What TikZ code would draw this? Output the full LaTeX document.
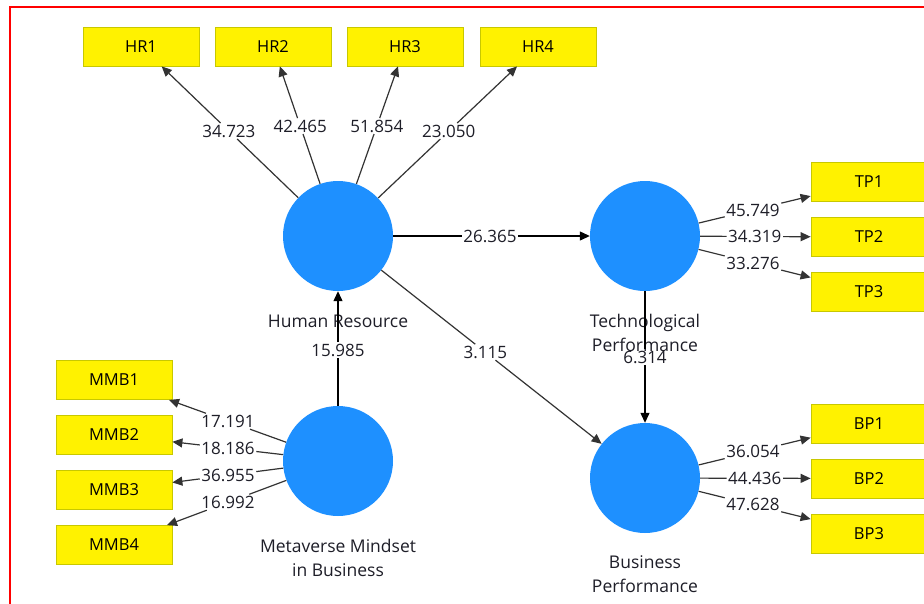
\documentclass[tikz,border=0pt]{standalone}
\usepackage{fontspec}
\setmainfont{Open Sans}
\usetikzlibrary{arrows.meta,calc}
\definecolor{lvblue}{RGB}{30,144,255}
\definecolor{boxborder}{RGB}{200,200,0}
\definecolor{txt}{RGB}{30,30,40}
\definecolor{frame}{RGB}{255,0,0}
\begin{document}
\begin{tikzpicture}[x=1pt,y=-1pt,
  lv/.style={circle,fill=lvblue,minimum size=110pt,inner sep=0pt},
  ind/.style={rectangle,fill=yellow,draw=boxborder,line width=0.8pt,minimum width=116pt,minimum height=39pt,inner sep=0pt,font=\fontsize{16.5}{18}\selectfont,text=black},
  lbl/.style={inner sep=1.5pt,font=\fontsize{17}{18}\selectfont,text=txt},
  lvname/.style={align=center,font=\fontsize{17.5}{24}\selectfont,text=txt},
  conn/.style={draw=black!80,line width=1.2pt,-{Triangle[length=10pt,width=9pt]}},
]
\useasboundingbox (0,0) rectangle (924,603);
\clip (0,0) rectangle (924,603);
\fill[white] (0,0) rectangle (924,603);
\draw[frame,line width=2pt] (10,604) -- (10,7) -- (925,7);

% latent variables
\node[lv] (hr) at (338,236) {};
\node[lv] (tp) at (645,236) {};
\node[lv] (bp) at (645,478) {};
\node[lv] (mmb) at (338,461) {};

% names
\node[lvname] (hrn) at (338,321) {Human Resource};
\node[lvname] (tpn) at (645,333) {Technological\\Performance};
\node[lvname] (bpn) at (645,574) {Business\\Performance};
\node[lvname] (mmbn) at (338,558) {Metaverse Mindset\\in Business};

% indicators
\node[ind] (hr1) at (141,46.5) {HR1};
\node[ind] (hr2) at (273,46.5) {HR2};
\node[ind] (hr3) at (405,46.5) {HR3};
\node[ind] (hr4) at (538,46.5) {HR4};
\node[ind] (tp1) at (869,182) {TP1};
\node[ind] (tp2) at (869,237) {TP2};
\node[ind] (tp3) at (869,292) {TP3};
\node[ind] (bp1) at (869,423.5) {BP1};
\node[ind] (bp2) at (869,478.5) {BP2};
\node[ind] (bp3) at (869,533.5) {BP3};
\node[ind] (mmb1) at (114,380) {MMB1};
\node[ind] (mmb2) at (114,435) {MMB2};
\node[ind] (mmb3) at (114,490) {MMB3};
\node[ind] (mmb4) at (114,545) {MMB4};

% loading labels
\node[lbl] (lh1) at ($(hr)!0.554!(hr1)$) {34.723};
\node[lbl] (lh2) at ($(hr)!0.58!(hr2)$) {42.465};
\node[lbl] (lh3) at ($(hr)!0.58!(hr3)$) {51.854};
\node[lbl] (lh4) at ($(hr)!0.554!(hr4)$) {23.050};
\node[lbl] (lt1) at ($(tp)!0.482!(tp1)$) {45.749};
\node[lbl] (lt2) at ($(tp)!0.49!(tp2)$) {34.319};
\node[lbl] (lt3) at ($(tp)!0.482!(tp3)$) {33.276};
\node[lbl] (lb1) at ($(bp)!0.482!(bp1)$) {36.054};
\node[lbl] (lb2) at ($(bp)!0.49!(bp2)$) {44.436};
\node[lbl] (lb3) at ($(bp)!0.482!(bp3)$) {47.628};
\node[lbl] (lm1) at ($(mmb)!0.491!(mmb1)$) {17.191};
\node[lbl] (lm2) at ($(mmb)!0.491!(mmb2)$) {18.186};
\node[lbl] (lm3) at ($(mmb)!0.491!(mmb3)$) {36.955};
\node[lbl] (lm4) at ($(mmb)!0.491!(mmb4)$) {16.992};
% path labels
\node[lbl] (pht) at ($(hr)!0.495!(tp)$) {26.365};
\node[lbl] (phb) at ($(hr)!0.48!(bp)$) {3.115};
\node[lbl] (pmh) at ($(mmb)!0.493!(hr)$) {15.985};
\node[lbl] (ptb) at ($(tp)!0.5!(bp)$) {6.314};

% connectors
\draw[conn] (hr) -- (lh1) -- (hr1);
\draw[conn] (hr) -- (lh2) -- (hr2);
\draw[conn] (hr) -- (lh3) -- (hr3);
\draw[conn] (hr) -- (lh4) -- (hr4);
\draw[conn] (tp) -- (lt1) -- (tp1);
\draw[conn] (tp) -- (lt2) -- (tp2);
\draw[conn] (tp) -- (lt3) -- (tp3);
\draw[conn] (bp) -- (lb1) -- (bp1);
\draw[conn] (bp) -- (lb2) -- (bp2);
\draw[conn] (bp) -- (lb3) -- (bp3);
\draw[conn] (mmb) -- (lm1) -- (mmb1);
\draw[conn] (mmb) -- (lm2) -- (mmb2);
\draw[conn] (mmb) -- (lm3) -- (mmb3);
\draw[conn] (mmb) -- (lm4) -- (mmb4);
\draw[conn,draw=black] (hr) -- (pht) -- (tp);
\draw[conn] (hr) -- (phb) -- (bp);
\draw[conn,draw=black] (mmb) -- (pmh) -- (hr);
\draw[conn,draw=black] (tp) -- (ptb) -- (bp);
\end{tikzpicture}
\end{document}
